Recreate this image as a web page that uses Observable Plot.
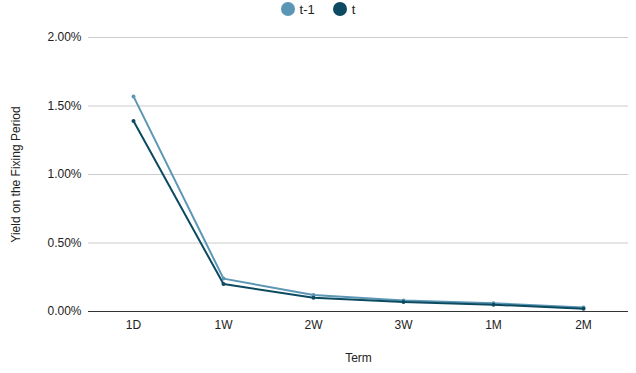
<!DOCTYPE html>
<html><head><meta charset="utf-8">
<script src="https://cdn.jsdelivr.net/npm/d3@7"></script>
<script src="https://cdn.jsdelivr.net/npm/@observablehq/plot@0.6"></script>
<style>
body{margin:0;background:#fff;font-family:"Liberation Sans",Arial,sans-serif;}
#legend{height:18px;display:flex;justify-content:center;align-items:center;gap:18px;font-size:13px;color:#222;}
#legend span{display:inline-flex;align-items:center;}
#legend i{display:inline-block;width:14px;height:14px;border-radius:50%;margin-right:5px;}
</style></head>
<body>
<div id="legend"></div>
<div id="chart"></div>
<script>
const terms = ["1D","1W","2W","3W","1M","2M"];
const seriesNames = ["t-1","t"];
const tMinus1 = [1.57,0.24,0.12,0.08,0.06,0.03];
const tNow = [1.39,0.20,0.10,0.07,0.05,0.02];
const colors = ["#5b97b5","#0b4a60"];
const yTicks = [0,0.5,1,1.5,2];

const data = [];
terms.forEach((term,i)=>{
  data.push({term, series:"t-1", value:tMinus1[i]});
  data.push({term, series:"t", value:tNow[i]});
});

const leg = document.getElementById("legend");
seriesNames.forEach((s,i)=>{
  const sp = document.createElement("span");
  sp.innerHTML = `<i style="background:${colors[i]}"></i>${s}`;
  leg.appendChild(sp);
});

const chart = Plot.plot({
  width:636, height:355,
  marginTop:19, marginBottom:62, marginLeft:88, marginRight:8,
  style:{fontFamily:"Liberation Sans, Arial, sans-serif", fontSize:"12px", color:"#222"},
  x:{type:"point", domain:terms, padding:0.5, label:null, tickSize:0, tickPadding:9},
  y:{domain:[0,2], ticks:yTicks, tickFormat:d=>d.toFixed(2)+"%", tickSize:0, tickPadding:7, label:null},
  color:{domain:seriesNames, range:colors},
  marks:[
    Plot.gridY(yTicks.filter(d=>d>0), {stroke:"#ccc", strokeOpacity:1}),
    Plot.ruleY([0], {stroke:"#333"}),
    Plot.line(data, {x:"term", y:"value", stroke:"series", strokeWidth:2}),
    Plot.dot(data, {x:"term", y:"value", fill:"series", r:2}),
    Plot.text(["Term"], {frameAnchor:"bottom", dy:50, fontSize:12, fill:"#222"}),
    Plot.text(["Yield on the Fixing Period"], {frameAnchor:"left", textAnchor:"middle", dx:-72, rotate:-90, fontSize:12, fill:"#222"})
  ]
});
document.getElementById("chart").appendChild(chart);
</script>
</body></html>
